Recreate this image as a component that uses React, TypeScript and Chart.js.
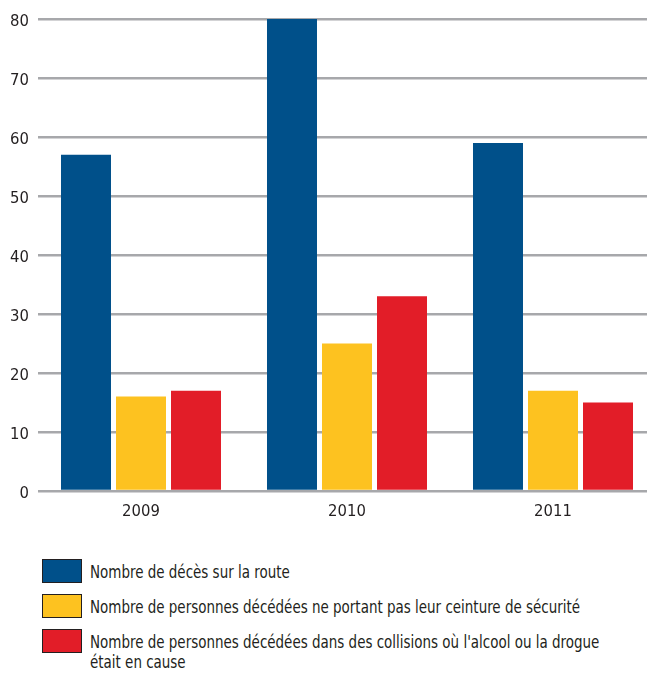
import React, { useEffect, useRef } from "react";
import { Chart, registerables } from "chart.js";

Chart.register(...registerables);

const categories = ["2009", "2010", "2011"];
const seriesLabels = [
  "Nombre de décès sur la route",
  "Nombre de personnes décédées ne portant pas leur ceinture de sécurité",
  "Nombre de personnes décédées dans des collisions où l'alcool ou la drogue\nétait en cause",
];
const deaths = [57, 80, 59];
const noSeatbelt = [16, 25, 17];
const alcoholDrugs = [17, 33, 15];
const colors = ["#00508A", "#FDC220", "#E21D28"];
const yTicks = [0, 10, 20, 30, 40, 50, 60, 70, 80];

const FONT = "'Liberation Sans Narrow', 'DejaVu Sans Condensed', 'Roboto Condensed', sans-serif";
const TEXT = "#231F20";

export default function App() {
  const ref = useRef<HTMLCanvasElement | null>(null);
  useEffect(() => {
    document.body.style.margin = "0";
    const canvas = ref.current;
    if (!canvas) return;
    const values = [deaths, noSeatbelt, alcoholDrugs];
    const chart = new Chart(canvas, {
      type: "bar",
      data: {
        labels: categories,
        datasets: values.map((v, i) => ({
          label: seriesLabels[i],
          data: v,
          backgroundColor: colors[i],
          borderWidth: 0,
          categoryPercentage: 0.801,
          barPercentage: 0.909,
        })),
      },
      options: {
        responsive: false,
        animation: false,
        layout: { padding: { top: 19, left: 0, right: 0, bottom: 0 } },
        plugins: { legend: { display: false }, tooltip: { enabled: false } },
        scales: {
          x: {
            grid: { display: false, drawTicks: false },
            border: { display: false },
            ticks: { color: TEXT, font: { family: FONT, size: 16.5 }, padding: 11 },
            afterFit: (s: any) => {
              s.height = 39;
            },
          },
          y: {
            min: 0,
            max: 80,
            afterBuildTicks: (s: any) => {
              s.ticks = yTicks.map((v) => ({ value: v }));
            },
            grid: { color: "#A7A8AB", lineWidth: 2.5, drawTicks: false },
            border: { display: false },
            ticks: { color: TEXT, font: { family: FONT, size: 16.5 }, padding: 9, labelOffset: 3 },
            afterFit: (s: any) => {
              s.width = 38;
            },
          },
        },
      },
    });
    return () => chart.destroy();
  }, []);

  return (
    <div style={{ width: 647, overflow: "hidden", fontFamily: FONT, color: TEXT }}>
      <div style={{ width: 656, height: 530 }}>
        <canvas ref={ref} width={656} height={530} style={{ display: "block" }} />
      </div>
      <div style={{ marginTop: 29, marginLeft: 42, paddingBottom: 10 }}>
        {seriesLabels.map((l, i) => (
          <div key={i} style={{ display: "flex", alignItems: "flex-start", minHeight: 35 }}>
            <div
              style={{
                width: 38,
                height: 22,
                background: colors[i],
                border: "1.5px solid #231F20",
                flex: "none",
              }}
            />
            <div
              style={{
                marginLeft: 8,
                fontSize: 17,
                lineHeight: "20px",
                whiteSpace: "pre",
                marginTop: 3,
                transform: "scaleX(0.88)",
                transformOrigin: "left top",
              }}
            >
              {l}
            </div>
          </div>
        ))}
      </div>
    </div>
  );
}
